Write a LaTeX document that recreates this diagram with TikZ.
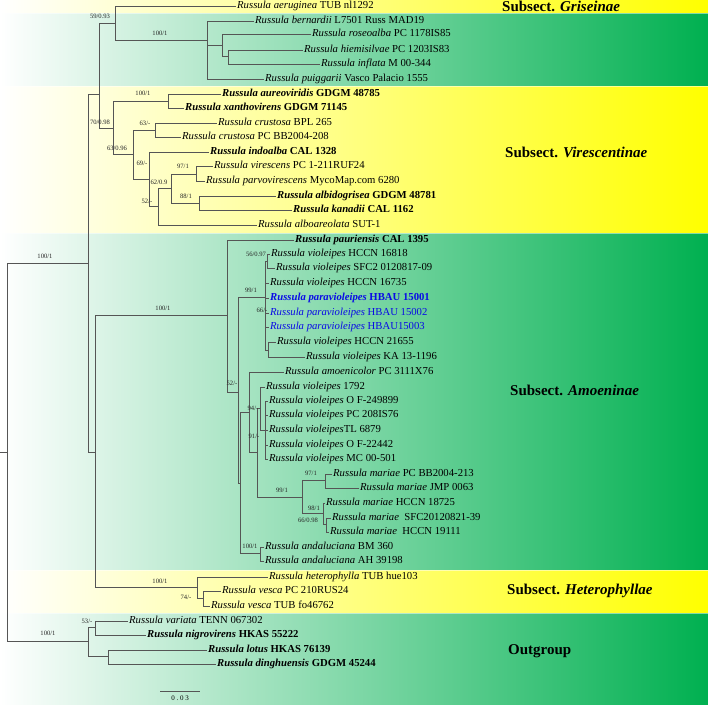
\documentclass[tikz,border=0pt]{standalone}
\usepackage{fontspec}
\setmainfont{Liberation Serif}
\definecolor{grn}{RGB}{0,176,80}
\definecolor{yel}{RGB}{255,255,0}
\definecolor{pblue}{RGB}{10,10,230}
\definecolor{brc}{RGB}{85,85,85}
\tikzset{
  br/.style={draw=brc, line width=0.8pt},
  leaf/.style={anchor=west, inner sep=1pt, font=\fontsize{10.7}{12}\selectfont, text height=7pt, text depth=2pt},
  supp/.style={font=\fontsize{6.6}{8}\selectfont, inner sep=0pt, text=black!85},
  sect/.style={anchor=west, inner sep=0pt, font=\bfseries\fontsize{15}{18}\selectfont},
  gband/.style={left color=white, right color=grn},
  yband/.style={left color=white, right color=yel}
}
\begin{document}
\begin{tikzpicture}[x=1pt,y=-1pt]
\useasboundingbox (0,0) rectangle (708,704);
% background bands
\shade[yband] (0,0) rectangle (708,13);
\shade[gband] (0,13) rectangle (708,86);
\shade[yband] (0,86) rectangle (708,233);
\shade[gband] (0,233) rectangle (708,570);
\shade[yband] (0,570) rectangle (708,613);
\shade[gband] (0,613) rectangle (708,704);
\foreach \yy in {13,86,233,570,613} {\draw[white, opacity=0.5, line width=0.8pt] (0,\yy) -- (708,\yy);}

% leaves
\node[leaf] (t1) at (236,6) {\textit{Russula aeruginea} TUB nl1292};
\node[leaf] (t2) at (254,21) {\textit{Russula bernardii} L7501 Russ MAD19};
\node[leaf] (t3) at (311,34) {\textit{Russula roseoalba} PC 1178IS85};
\node[leaf] (t4) at (303,50) {\textit{Russula hiemisilvae} PC 1203IS83};
\node[leaf] (t5) at (320,64) {\textit{Russula inflata} M 00-344};
\node[leaf] (t6) at (264,79) {\textit{Russula puiggarii} Vasco Palacio 1555};
\node[leaf] (t7) at (221,94) {\textbf{\textit{Russula aureoviridis} GDGM 48785}};
\node[leaf] (t8) at (184,108) {\textbf{\textit{Russula xanthovirens} GDGM 71145}};
\node[leaf] (t9) at (217,123) {\textit{Russula crustosa} BPL 265};
\node[leaf] (t10) at (181,137) {\textit{Russula crustosa} PC BB2004-208};
\node[leaf] (t11) at (209,152) {\textbf{\textit{Russula indoalba} CAL 1328}};
\node[leaf] (t12) at (213,166) {\textit{Russula virescens} PC 1-211RUF24};
\node[leaf] (t13) at (205,181) {\textit{Russula parvovirescens} MycoMap.com 6280};
\node[leaf] (t14) at (276,196) {\textbf{\textit{Russula albidogrisea} GDGM 48781}};
\node[leaf] (t15) at (292,210) {\textbf{\textit{Russula kanadii} CAL 1162}};
\node[leaf] (t16) at (257,225) {\textit{Russula alboareolata} SUT-1};
\node[leaf] (t17) at (294,240) {\textbf{\textit{Russula pauriensis} CAL 1395}};
\node[leaf] (t18) at (270,254) {\textit{Russula violeipes} HCCN 16818};
\node[leaf] (t19) at (275,268) {\textit{Russula violeipes} SFC2 0120817-09};
\node[leaf] (t20) at (269,283) {\textit{Russula violeipes} HCCN 16735};
\node[leaf, text=pblue] (t21) at (269,298) {\textbf{\textit{Russula paravioleipes} HBAU 15001}};
\node[leaf, text=pblue] (t22) at (269,313) {\textit{Russula paravioleipes} HBAU 15002};
\node[leaf, text=pblue] (t23) at (269,327) {\textit{Russula paravioleipes} HBAU15003};
\node[leaf] (t24) at (276,342) {\textit{Russula violeipes} HCCN 21655};
\node[leaf] (t25) at (305,357) {\textit{Russula violeipes} KA 13-1196};
\node[leaf] (t26) at (284,372) {\textit{Russula amoenicolor} PC 3111X76};
\node[leaf] (t27) at (265,387) {\textit{Russula violeipes} 1792};
\node[leaf] (t28) at (268,401) {\textit{Russula violeipes} O F-249899};
\node[leaf] (t29) at (268,415) {\textit{Russula violeipes} PC 208IS76};
\node[leaf] (t30) at (268,430) {\textit{Russula violeipes}TL 6879};
\node[leaf] (t31) at (268,445) {\textit{Russula violeipes} O F-22442};
\node[leaf] (t32) at (268,459) {\textit{Russula violeipes} MC 00-501};
\node[leaf] (t33) at (332,474) {\textit{Russula mariae} PC BB2004-213};
\node[leaf] (t34) at (359,488) {\textit{Russula mariae} JMP 0063};
\node[leaf] (t35) at (325,503) {\textit{Russula mariae} HCCN 18725};
\node[leaf] (t36) at (331,518) {\textit{Russula mariae}\ \ SFC20120821-39};
\node[leaf] (t37) at (329,532) {\textit{Russula mariae}\ \ HCCN 19111};
\node[leaf] (t38) at (264,547) {\textit{Russula andaluciana} BM 360};
\node[leaf] (t39) at (264,561) {\textit{Russula andaluciana} AH 39198};
\node[leaf] (t40) at (268,577) {\textit{Russula heterophylla} TUB hue103};
\node[leaf] (t41) at (221,591) {\textit{Russula vesca} PC 210RUS24};
\node[leaf] (t42) at (210,606) {\textit{Russula vesca} TUB fo46762};
\node[leaf] (t43) at (128,621) {\textit{Russula variata} TENN 067302};
\node[leaf] (t44) at (146,635) {\textbf{\textit{Russula nigrovirens} HKAS 55222}};
\node[leaf] (t45) at (207,650) {\textbf{\textit{Russula lotus} HKAS 76139}};
\node[leaf] (t46) at (216,664) {\textbf{\textit{Russula dinghuensis} GDGM 45244}};

% internal nodes
\coordinate (stub) at (0,452);
\coordinate (R) at (7,452);
\coordinate (I) at (88,263);
\coordinate (O) at (88,641);
\coordinate (A) at (99,94);
\coordinate (B) at (95,452);
\coordinate (G0) at (115,23);
\coordinate (B0) at (207,40);
\coordinate (B1) at (222,45);
\coordinate (B2) at (228,56);
\coordinate (V0) at (113,128);
\coordinate (AX) at (168,101);
\coordinate (V1) at (133,154);
\coordinate (CR) at (155,130);
\coordinate (V2) at (149,179);
\coordinate (V3) at (158,206);
\coordinate (V4) at (171,188);
\coordinate (VI) at (196,174);
\coordinate (AL) at (199,203);
\coordinate (AM) at (227,315);
\coordinate (A0b) at (238,392);
\coordinate (A1) at (265,297);
\coordinate (C1) at (267,261);
\coordinate (Q) at (268,350);
\coordinate (A2) at (240,483);
\coordinate (A3) at (249,412);
\coordinate (A4) at (257,452);
\coordinate (G) at (260,408);
\coordinate (G2) at (265,430);
\coordinate (M) at (302,497);
\coordinate (M1) at (325,480);
\coordinate (M2) at (323,513);
\coordinate (M3) at (326,524);
\coordinate (AN) at (260,553);
\coordinate (H) at (197,587);
\coordinate (VE) at (203,598);
\coordinate (O1) at (95,627);
\coordinate (O2) at (108,656);

% branches
\draw[br] (stub) -- (R);
\draw[br] (R) |- (I);
\draw[br] (R) |- (O);
\draw[br] (I) |- (A);
\draw[br] (I) |- (B);
\draw[br] (A) |- (G0);
\draw[br] (A) |- (V0);
\draw[br] (G0) |- (t1.west);
\draw[br] (G0) |- (B0);
\draw[br] (B0) |- (t2.west);
\draw[br] (B0) |- (B1);
\draw[br] (B0) |- (t6.west);
\draw[br] (B1) |- (t3.west);
\draw[br] (B1) |- (B2);
\draw[br] (B2) |- (t4.west);
\draw[br] (B2) |- (t5.west);
\draw[br] (V0) |- (AX);
\draw[br] (V0) |- (V1);
\draw[br] (AX) |- (t7.west);
\draw[br] (AX) |- (t8.west);
\draw[br] (V1) |- (CR);
\draw[br] (V1) |- (V2);
\draw[br] (CR) |- (t9.west);
\draw[br] (CR) |- (t10.west);
\draw[br] (V2) |- (t11.west);
\draw[br] (V2) |- (V3);
\draw[br] (V3) |- (V4);
\draw[br] (V3) |- (t16.west);
\draw[br] (V4) |- (VI);
\draw[br] (V4) |- (AL);
\draw[br] (VI) |- (t12.west);
\draw[br] (VI) |- (t13.west);
\draw[br] (AL) |- (t14.west);
\draw[br] (AL) |- (t15.west);
\draw[br] (B) |- (AM);
\draw[br] (B) |- (H);
\draw[br] (AM) |- (t17.west);
\draw[br] (AM) |- (A0b);
\draw[br] (A0b) |- (A1);
\draw[br] (A0b) |- (A2);
\draw[br] (A1) |- (C1);
\draw[br] (A1) |- (t20.west);
\draw[br] (A1) |- (t21.west);
\draw[br] (A1) |- (t22.west);
\draw[br] (A1) |- (t23.west);
\draw[br] (A1) |- (Q);
\draw[br] (C1) |- (t18.west);
\draw[br] (C1) |- (t19.west);
\draw[br] (Q) |- (t24.west);
\draw[br] (Q) |- (t25.west);
\draw[br] (A2) |- (A3);
\draw[br] (A2) |- (AN);
\draw[br] (A3) |- (t26.west);
\draw[br] (A3) |- (A4);
\draw[br] (A4) |- (G);
\draw[br] (A4) |- (M);
\draw[br] (G) |- (t27.west);
\draw[br] (G) |- (G2);
\draw[br] (G2) |- (t28.west);
\draw[br] (G2) |- (t29.west);
\draw[br] (G2) |- (t30.west);
\draw[br] (G2) |- (t31.west);
\draw[br] (G2) |- (t32.west);
\draw[br] (M) |- (M1);
\draw[br] (M) |- (M2);
\draw[br] (M1) |- (t33.west);
\draw[br] (M1) |- (t34.west);
\draw[br] (M2) |- (t35.west);
\draw[br] (M2) |- (M3);
\draw[br] (M3) |- (t36.west);
\draw[br] (M3) |- (t37.west);
\draw[br] (AN) |- (t38.west);
\draw[br] (AN) |- (t39.west);
\draw[br] (H) |- (t40.west);
\draw[br] (H) |- (VE);
\draw[br] (VE) |- (t41.west);
\draw[br] (VE) |- (t42.west);
\draw[br] (O) |- (O1);
\draw[br] (O) |- (O2);
\draw[br] (O1) |- (t43.west);
\draw[br] (O1) |- (t44.west);
\draw[br] (O2) |- (t45.west);
\draw[br] (O2) |- (t46.west);

% support values
\node[supp] (s1) at (100,16) {59/0.93};
\node[supp] (s2) at (160,33) {100/1};
\node[supp] (s3) at (143,93) {100/1};
\node[supp] (s4) at (100,122) {70/0.98};
\node[supp] (s5) at (145,123) {63/-};
\node[supp] (s6) at (117,148) {63/0.96};
\node[supp] (s7) at (142,163) {69/-};
\node[supp] (s8) at (183,166) {97/1};
\node[supp] (s9) at (159,182) {62/0.9};
\node[supp] (s10) at (186,196) {88/1};
\node[supp] (s11) at (147,201) {52/-};
\node[supp] (s12) at (45,256) {100/1};
\node[supp] (s13) at (163,308) {100/1};
\node[supp] (s14) at (256,254) {56/0.97};
\node[supp] (s15) at (251,290) {99/1};
\node[supp] (s16) at (262,310) {66/-};
\node[supp] (s17) at (232,383) {52/-};
\node[supp] (s18) at (253,408) {94/-};
\node[supp] (s19) at (254,436) {91/-};
\node[supp] (s20) at (311,473) {97/1};
\node[supp] (s21) at (282,490) {99/1};
\node[supp] (s22) at (314,508) {98/1};
\node[supp] (s23) at (308,520) {66/0.98};
\node[supp] (s24) at (250,546) {100/1};
\node[supp] (s25) at (160,581) {100/1};
\node[supp] (s26) at (186,597) {74/-};
\node[supp] (s27) at (87,621) {53/-};
\node[supp] (s28) at (48,633) {100/1};

% section labels
\node[sect] (sg) at (502,6) {Subsect. \textit{Griseinae}};
\node[sect] (sv) at (505,152) {Subsect. \textit{Virescentinae}};
\node[sect] (sa) at (510,390) {Subsect. \textit{Amoeninae}};
\node[sect] (sh) at (507,591) {Subsect. \textit{Heterophyllae}};
\node[sect] (so) at (508,651) {Outgroup};

% scale bar
\coordinate (sc1) at (160,691);
\coordinate (sc2) at (200,691);
\draw[draw=brc, line width=0.8pt] (sc1) -- (sc2);
\node[font=\fontsize{7}{8}\selectfont, inner sep=0pt] (sct) at (180,698) {0\ .\ 0\ 3};
\end{tikzpicture}
\end{document}
